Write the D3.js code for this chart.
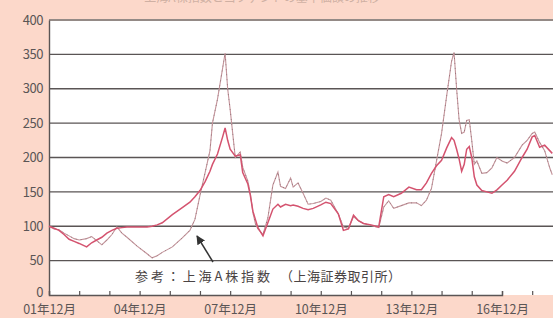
<!DOCTYPE html>
<html><head><meta charset="utf-8">
<script src="https://cdn.jsdelivr.net/npm/d3@7"></script>
<style>
html,body{margin:0;padding:0;background:#fcd8ca;}
svg{display:block;}
text{font-family:"Noto Sans CJK JP","Noto Sans",sans-serif;}
</style></head>
<body>
<svg id="c" width="553" height="318"></svg>
<script>
const months = ["2001-12","2002-02","2002-04","2002-06","2002-08","2002-10","2002-12","2003-03","2003-05","2003-07","2003-09","2003-11","2004-01","2004-03","2004-05","2004-07","2004-11","2005-03","2005-05","2005-07","2005-09","2006-01","2006-05","2006-08","2006-10","2006-12","2007-02","2007-04","2007-05","2007-07","2007-09","2007-10","2007-11","2007-12","2008-02","2008-04","2008-05","2008-07","2008-08","2008-09","2008-10","2008-11","2009-01","2009-03","2009-05","2009-07","2009-08","2009-10","2009-12","2010-01","2010-03","2010-05","2010-07","2010-09","2010-12","2011-02","2011-04","2011-07","2011-09","2011-11","2012-01","2012-03","2012-05","2012-08","2012-11","2013-01","2013-03","2013-05","2013-08","2013-11","2014-02","2014-04","2014-06","2014-08","2014-10","2014-12","2015-02","2015-04","2015-05","2015-06","2015-07","2015-08","2015-09","2015-10","2015-11","2015-12","2016-01","2016-02","2016-04","2016-06","2016-08","2016-10","2016-12","2017-02","2017-05","2017-08","2017-10","2017-12","2018-01","2018-03","2018-05","2018-07","2018-08"];
const fundValues = [100,97,94,88,81,78,75,70,76,80,84,90,94,97,98,99,99,99,100,102,105,117,127,135,143,152,165,180,190,205,230,243,225,212,202,204,178,162,145,122,110,98,86,105,125,132,128,132,130,131,129,126,124,126,131,135,133,118,94,96,116,108,104,102,99,143,146,143,148,157,153,153,163,177,188,196,214,229,225,212,198,180,190,212,216,200,172,160,152,150,148,153,160,167,180,200,212,230,232,215,218,210,206];
const indexValues = [100,96,95,90,86,82,80,82,85,79,73,80,88,99,90,84,71,60,54,57,62,70,83,94,110,145,178,210,250,285,330,352,300,270,200,208,186,166,148,120,104,96,88,112,160,179,158,155,170,157,163,148,132,133,136,141,138,118,99,97,114,108,104,101,98,128,137,126,130,134,134,130,138,155,195,235,290,340,353,300,255,235,237,254,255,225,190,195,177,178,185,200,195,192,200,218,225,235,237,222,210,185,175];
const yTicks = [0,50,100,150,200,250,300,350,400];
const xLabelYears = [2001,2004,2007,2010,2013,2016];
const tickYears = d3.range(2001, 2018);
const noteMain = "参考：上海A株指数";
const noteSrc = "（上海証券取引所）";
const titleText = "上海A株指数と当ファンドの基準価額の推移";

const parse = d3.timeParse("%Y-%m");
const dates = months.map(parse);
const svg = d3.select("#c");

const x = d3.scaleTime().domain([new Date(2001,11,1), new Date(2016,11,1)]).range([49, 502]);
const y = d3.scaleLinear().domain([0,400]).range([295, 20]);

// title (cut off at top, as in the source)
svg.append("text").attr("x", 262).attr("y", 2).attr("text-anchor","middle")
  .attr("font-size", 12).attr("fill", "#cfb0a3").text(titleText);

// plot area
svg.append("rect").attr("x", 49).attr("y", y(400)).attr("width", 553-49).attr("height", y(0)-y(400)).attr("fill", "#ffffff");

// gridlines
svg.append("g").selectAll("line").data(yTicks.filter(d => d>0 && d<400)).join("line")
  .attr("x1", 49).attr("x2", 553).attr("y1", d => y(d)).attr("y2", d => y(d))
  .attr("stroke", "#5a5555").attr("stroke-width", 1.4);
// top border
svg.append("line").attr("x1", 49).attr("x2", 553).attr("y1", y(400)).attr("y2", y(400))
  .attr("stroke", "#948a86").attr("stroke-width", 2);

// y axis
const yAxis = d3.axisLeft(y).tickValues(yTicks).tickSize(0).tickPadding(6);
const gy = svg.append("g").attr("transform", "translate(49,0)").call(yAxis);
gy.select(".domain").attr("stroke", "#5a5555").attr("stroke-width", 1.4);
gy.selectAll("text").attr("font-size", 13).attr("fill", "#5a5555").attr("font-family", "'DejaVu Sans','Noto Sans',sans-serif").attr("letter-spacing", -0.5);
gy.selectAll(".tick").filter(d => d === 0).select("text").attr("dy", "0.12em");

// x axis
const xAxis = d3.axisBottom(x).tickValues(tickYears.map(yr => new Date(yr,11,1)))
  .tickSize(-4).tickPadding(13)
  .tickFormat(d => xLabelYears.includes(d.getFullYear()) ? String(d.getFullYear()%100).padStart(2,"0") + "年12月" : "");
const gx = svg.append("g").attr("transform", `translate(0,${y(0)})`).call(xAxis);
gx.select(".domain").attr("stroke", "#5a5555").attr("stroke-width", 1.4);
gx.selectAll(".tick line").attr("stroke", "#5a5555").attr("stroke-width", 1.2);
gx.selectAll("text").attr("font-size", 12.5).attr("fill", "#5a5555").attr("dy", "0.5em");

// lines
const lineGen = vals => d3.line().x((d,i) => x(dates[i])).y(d => y(d))(vals);
svg.append("path").attr("d", lineGen(indexValues)).attr("fill","none")
  .attr("stroke", "#c4949b").attr("stroke-width", 1.1);
svg.append("path").attr("d", lineGen(indexValues)).attr("fill","none")
  .attr("stroke", "#6f5a5d").attr("stroke-width", 1).attr("stroke-dasharray", "1 4").attr("opacity", 0.55);
svg.append("path").attr("d", lineGen(fundValues)).attr("fill","none")
  .attr("stroke", "#d4536f").attr("stroke-width", 1.5);

// annotation
svg.append("text").attr("x", 135).attr("y", 281).attr("font-size", 13).attr("fill", "#4a4444")
  .attr("textLength", 135).attr("lengthAdjust", "spacing").text(noteMain);
svg.append("text").attr("x", 280).attr("y", 281).attr("font-size", 13).attr("fill", "#4a4444")
  .attr("textLength", 121).attr("lengthAdjust", "spacing").text(noteSrc);

svg.append("defs").append("marker").attr("id","ah").attr("viewBox","0 0 10 10")
  .attr("refX", 9).attr("refY", 5).attr("markerWidth", 6).attr("markerHeight", 6).attr("orient","auto")
  .append("path").attr("d","M0,0L10,5L0,10z").attr("fill","#333");
svg.append("line").attr("x1", 213).attr("y1", 262).attr("x2", 197).attr("y2", 236)
  .attr("stroke", "#333").attr("stroke-width", 1.5).attr("marker-end", "url(#ah)");
</script>
</body></html>
